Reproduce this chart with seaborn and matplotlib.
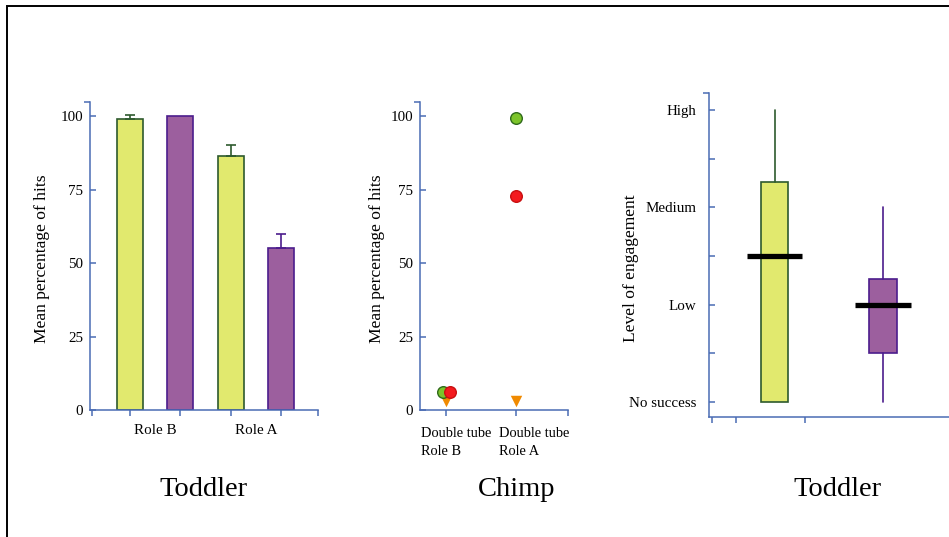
import numpy as np
import pandas as pd
import matplotlib
matplotlib.use("Agg")
import matplotlib.pyplot as plt
import matplotlib.transforms as mtrans
import seaborn as sns
from matplotlib.patches import Rectangle

# ---------------- data ----------------
roles = ["Role B", "Role A"]
toddler_groups = ["Group 1", "Group 2"]
green_means = [99.0, 86.5]
green_err = [1.5, 3.5]
purple_means = [100.0, 55.0]
purple_err = [0.0, 5.0]

chimp_conditions = ["Double tube\nRole B", "Double tube\nRole A"]
chimp_green = [6.0, 99.2]
chimp_red = [6.2, 72.8]
chimp_orange = [3.2, 3.2]

engagement_levels = ["No success", "Low", "Medium", "High"]
green_box = dict(whislo=0.0, q1=0.0, med=1.5, q3=2.26, whishi=3.0)
purple_box = dict(whislo=0.0, q1=0.5, med=1.0, q3=1.26, whishi=2.0)

pct_ticks = [0, 25, 50, 75, 100]
panel_titles = ["Toddler", "Chimp", "Toddler"]

# ---------------- style ----------------
sns.set_theme(style="white")
plt.rcParams["font.family"] = ["Liberation Serif", "DejaVu Serif"]
plt.rcParams["text.color"] = "black"
plt.rcParams["axes.labelcolor"] = "black"

W, H = 949, 537
BLUE = "#4a6cb4"
G_FILL, G_EDGE = "#e1e96e", "#2e5a2e"
P_FILL, P_EDGE = "#9c5f9e", "#4c1c8c"
C_GREEN, C_GREEN_E = "#7cc42a", "#2f6a1a"
C_RED, C_RED_E = "#f41a1e", "#c81010"
C_ORANGE = "#f08a00"
TICK_LEN = 4.3
LW = 1.1

fig = plt.figure(figsize=(W / 100, H / 100), dpi=100)


def rect(l, r, t, b):
    return [l / W, (H - b) / H, (r - l) / W, (b - t) / H]


def style_axes(ax):
    sns.despine(ax=ax)
    for s in ("left", "bottom"):
        ax.spines[s].set_color(BLUE)
        ax.spines[s].set_linewidth(LW)
    ax.tick_params(which="both", color=BLUE, width=LW, left=True, bottom=True,
                   labelcolor="black")


# ---------------- panel 1: toddler bars ----------------
ax1 = fig.add_axes(rect(90, 318, 102, 410))
df = pd.DataFrame({
    "role": roles * 2,
    "group": [g for g in toddler_groups for _ in roles],
    "value": green_means + purple_means,
})
sns.barplot(data=df, x="role", y="value", hue="group", order=roles,
            hue_order=toddler_groups, palette=[G_FILL, P_FILL], width=1.0,
            gap=0.485, errorbar=None, legend=False, linewidth=1.2,
            saturation=1, ax=ax1)
centers = []
for cont, edge, errs in zip(ax1.containers, [G_EDGE, P_EDGE], [green_err, purple_err]):
    for bar, e in zip(cont, errs):
        bar.set_edgecolor(edge)
        cx = bar.get_x() + bar.get_width() / 2
        centers.append(cx)
        if e > 0:
            ax1.errorbar(cx, bar.get_height(), yerr=[[0], [e]], fmt="none",
                         ecolor=edge, elinewidth=1.2, capsize=3.3, capthick=1.2,
                         zorder=1)
xl1 = (-0.647, 1.617)
yl = (0, 104.8)
ax1.set_xlim(*xl1)
ax1.set_ylim(*yl)
style_axes(ax1)
ax1.set_yticks(pct_ticks)
ax1.set_yticks([yl[1]], minor=True)
ax1.set_xticks([0, 1], roles)
ax1.set_xticks(sorted(centers) + [xl1[0] + 0.02, xl1[1]], minor=True)
ax1.tick_params(axis="y", which="major", direction="in", length=TICK_LEN,
                labelsize=10.8, pad=5)
ax1.tick_params(axis="y", which="minor", direction="out", length=TICK_LEN)
ax1.tick_params(axis="x", which="major", length=0, pad=10, labelsize=10.8)
ax1.tick_params(axis="x", which="minor", direction="out", length=TICK_LEN)
ax1.set_xlabel("")
ax1.set_ylabel("Mean percentage of hits", fontsize=12.6)
ax1.yaxis.set_label_coords(-0.175, 0.49)

# ---------------- panel 2: chimp points ----------------
ax2 = fig.add_axes(rect(420, 568, 102, 410))
sns.scatterplot(x=chimp_conditions, y=chimp_orange, marker="v", s=68,
                color=C_ORANGE, linewidth=0, ax=ax2, zorder=3)
sns.scatterplot(x=chimp_conditions, y=chimp_green, marker="o", s=70,
                color=C_GREEN, edgecolor=C_GREEN_E, linewidth=1.0, ax=ax2, zorder=4)
sns.scatterplot(x=chimp_conditions, y=chimp_red, marker="o", s=70,
                color=C_RED, edgecolor=C_RED_E, linewidth=1.0, ax=ax2, zorder=5)
# small visual nudge so the overlapping first-condition circles remain visible
for coll, dx in zip(ax2.collections[1:3], [-0.045, 0.055]):
    offs = coll.get_offsets().copy()
    offs[0, 0] += dx
    coll.set_offsets(offs)
xl2 = (-0.371, 1.743)
ax2.set_xlim(*xl2)
ax2.set_ylim(*yl)
style_axes(ax2)
ax2.set_yticks(pct_ticks)
ax2.set_yticks([yl[1]], minor=True)
ax2.set_xticks([0, 1], chimp_conditions)
ax2.set_xticks([xl2[1]], minor=True)
ax2.tick_params(axis="y", which="major", direction="in", length=TICK_LEN,
                labelsize=10.8, pad=5)
ax2.tick_params(axis="y", which="minor", direction="out", length=TICK_LEN)
ax2.tick_params(axis="x", which="major", direction="out", length=TICK_LEN,
                labelsize=10.4, pad=8)
ax2.tick_params(axis="x", which="minor", direction="out", length=TICK_LEN)
for lab, dpx in zip(ax2.get_xticklabels(), [-25, -17]):
    lab.set_horizontalalignment("left")
    lab.set_linespacing(1.45)
    lab.set_transform(lab.get_transform()
                      + mtrans.ScaledTranslation(dpx / 100, 0, fig.dpi_scale_trans))
ax2.set_xlabel("")
ax2.set_ylabel("Mean percentage of hits", fontsize=12.6)
ax2.yaxis.set_label_coords(-0.236, 0.49)

# ---------------- panel 3: engagement boxes ----------------
ax3 = fig.add_axes(rect(709, 960, 93, 417))
stats = [green_box, purple_box]
positions = [1, 2]
res = ax3.bxp(stats, positions=positions, widths=0.25, showcaps=False,
              showfliers=False, patch_artist=True,
              medianprops=dict(visible=False))
for i, (fc, ec) in enumerate([(G_FILL, G_EDGE), (P_FILL, P_EDGE)]):
    res["boxes"][i].set_facecolor(fc)
    res["boxes"][i].set_edgecolor(ec)
    res["boxes"][i].set_linewidth(1.2)
    for w in res["whiskers"][2 * i:2 * i + 2]:
        w.set_color(ec)
        w.set_linewidth(1.2)
meds = [s["med"] for s in stats]
ax3.hlines(meds, [p - 0.255 for p in positions], [p + 0.255 for p in positions],
           colors="black", linewidth=3.8, zorder=5)
yl3 = (-0.154, 3.175)
ax3.set_xlim(0.396, 2.71)
ax3.set_ylim(*yl3)
style_axes(ax3)
half_ticks = np.arange(0, 3.01, 0.5)
ax3.set_yticks(half_ticks,
               [engagement_levels[int(t)] if t == int(t) else "" for t in half_ticks])
ax3.set_yticks([yl3[1]], minor=True)
ax3.set_xticks([0.424, 0.645, 1.281], ["", "", ""])
ax3.tick_params(axis="y", which="major", direction="in", length=TICK_LEN,
                labelsize=10.8, pad=9)
ax3.tick_params(axis="y", which="minor", direction="out", length=TICK_LEN)
ax3.tick_params(axis="x", which="major", direction="out", length=TICK_LEN)
ax3.set_ylabel("Level of engagement", fontsize=12.6)
ax3.yaxis.set_label_coords(-0.279, 0.46)

# ---------------- titles and frame ----------------
for xpix, t in zip([203, 517, 837], panel_titles):
    fig.text(xpix / W, 1 - 490 / H, t, ha="center", va="center", fontsize=20.5,
             color="black")

fig.add_artist(Rectangle((7 / W, -0.1), 1.2, 1.1 - 6 / H, transform=fig.transFigure,
                         fill=False, edgecolor="black", linewidth=1.4, clip_on=False))

fig.savefig("out.png", dpi=100)
